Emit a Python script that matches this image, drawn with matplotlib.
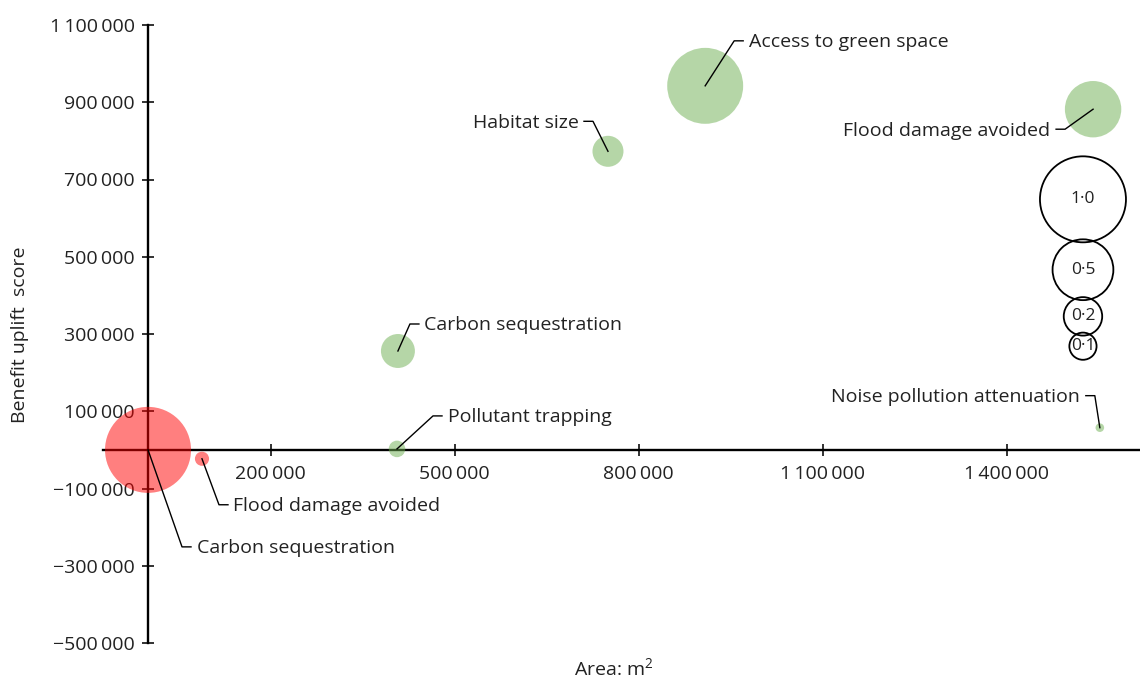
import numpy as np
import matplotlib
matplotlib.use('Agg')
import matplotlib.pyplot as plt
from matplotlib.lines import Line2D
from matplotlib.transforms import ScaledTranslation

plt.rcParams['font.family'] = ['Open Sans', 'DejaVu Sans']
plt.rcParams['mathtext.default'] = 'regular'

# bubble data: area (m2), benefit uplift score, relative size, sign
labels = ['Carbon sequestration', 'Flood damage avoided', 'Pollutant trapping',
          'Carbon sequestration', 'Habitat size', 'Access to green space',
          'Flood damage avoided', 'Noise pollution attenuation']
area = [0, 88000, 406000, 407500, 750000, 908500, 1541000, 1552000]
score = [0, -23000, 2500, 256000, 773000, 942500, 882000, 57500]
size = [1.0, 0.027, 0.037, 0.156, 0.13, 0.78, 0.43, 0.01]
negative = [True, True, False, False, False, False, False, False]

legend_sizes = [1.0, 0.5, 0.2, 0.1]
legend_text = ['1·0', '0·5', '0·2', '0·1']

xticks = [200000, 500000, 800000, 1100000, 1400000]
yticks = [-500000, -300000, -100000, 100000, 300000, 500000, 700000, 900000, 1100000]

# label placement in pixels: elbow offset from bubble centre (x right, y up)
elbow = [(34, -97), (17, -46), (36, 33), (12, 27), (-15, 30), (29, 45), (-28, -20), (-5, 32)]

DPI = 100
R1 = 43.0  # radius in px of a bubble of size 1
red = '#ff0000'
green = '#6daf51'
FS = 14
TXT = '#222222'


def fmt(v):
    s = '{:,}'.format(abs(int(v))).replace(',', '\u2009')
    return ('\u2212' if v < 0 else '') + s


def s_of(v):
    return (2 * R1 * np.sqrt(v) * 72 / DPI) ** 2


fig = plt.figure(figsize=(11.4, 6.8), dpi=DPI)
ax = fig.add_axes([103 / 1140, 37 / 680, 1037 / 1140, 618 / 680])
ax.set_xlim(-73400, 1617500)
ax.set_ylim(-500000, 1100000)

for side in ['top', 'right']:
    ax.spines[side].set_visible(False)
ax.spines['left'].set_position(('data', 0))
ax.spines['bottom'].set_position(('data', 0))
for side in ['left', 'bottom']:
    ax.spines[side].set_linewidth(1.7)
ax.tick_params(direction='inout', length=8.6, width=1.3, labelsize=FS, colors=TXT)
ax.tick_params(axis='x', pad=6.5)
ax.tick_params(axis='y', pad=5)
ax.set_xticks(xticks)
ax.set_xticklabels([fmt(v) for v in xticks])
ax.set_yticks(yticks)
ax.set_yticklabels([fmt(v) for v in yticks])

colors = [red if n else green for n in negative]
ax.scatter(area, score, s=[s_of(v) for v in size], c=colors, alpha=0.5,
           linewidths=0, zorder=3, clip_on=False)

# leader lines and labels
for i in range(len(labels)):
    ex, ey = elbow[i]
    d = 1 if ex > 0 else -1
    trans = fig.dpi_scale_trans + ScaledTranslation(area[i], score[i], ax.transData)
    xs = np.array([0, ex, ex + 9 * d]) / DPI
    ys = np.array([0, ey, ey]) / DPI
    ax.add_line(Line2D(xs, ys, transform=trans, color='black', lw=1.0, zorder=4, clip_on=False))
    ax.text((ex + 14.5 * d) / DPI, (ey - 1.5) / DPI, labels[i], transform=trans, fontsize=FS,
            ha='left' if d > 0 else 'right', va='center', color=TXT, zorder=5)

# size legend, stacked downwards from the top anchor
anchor_x, anchor_top = 1524500, 760000
trans0 = fig.dpi_scale_trans + ScaledTranslation(anchor_x, anchor_top, ax.transData)
y = 0.0
for k, v in enumerate(legend_sizes):
    r = R1 * np.sqrt(v)
    cy = y - r
    ax.scatter([0], [cy / DPI], s=s_of(v), facecolors='none', edgecolors='black',
               linewidths=1.3, transform=trans0, zorder=4, clip_on=False)
    ax.text(0, cy / DPI, legend_text[k], transform=trans0, fontsize=FS - 1.5,
            ha='center', va='center', color=TXT, zorder=5)
    y = cy - r + 3

fig.text(20 / 1140, 1 - 335 / 680, 'Benefit uplift  score', rotation=90, fontsize=FS,
         ha='center', va='center', color=TXT)
fig.text(614 / 1140, 1 - 668 / 680, 'Area: m$^2$', fontsize=FS, ha='center', va='center',
         color=TXT)

fig.savefig('out.png', dpi=DPI)
